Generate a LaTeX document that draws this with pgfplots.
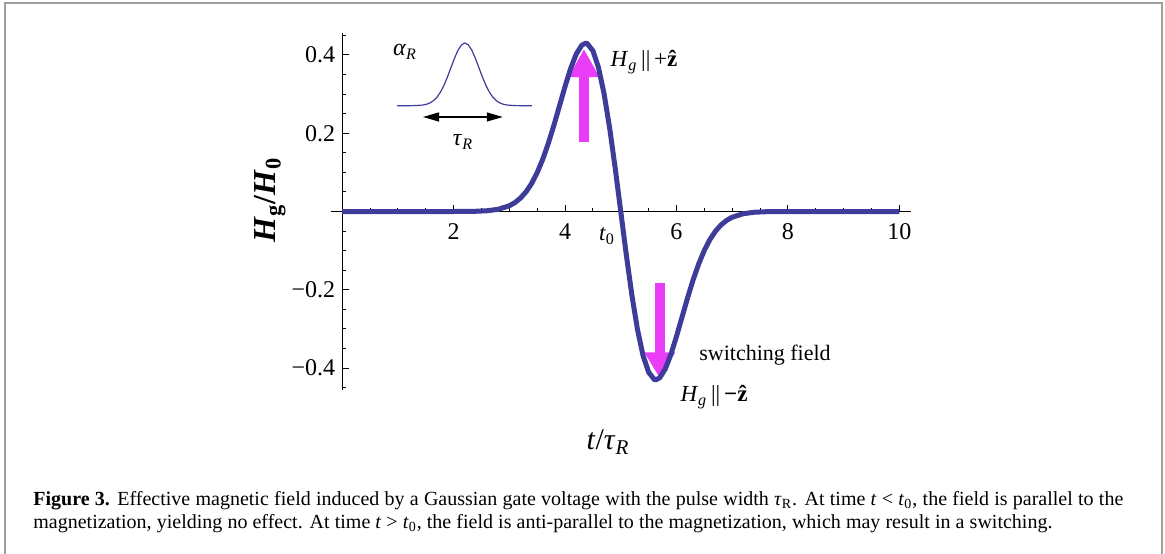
\documentclass[border=0pt]{standalone}
\usepackage{fontspec}
\setmainfont{Liberation Serif}
\usepackage{pgfplots}
\pgfplotsset{compat=1.18}
\usetikzlibrary{arrows.meta}
\definecolor{curve}{RGB}{61,61,153}
\definecolor{mag}{RGB}{233,61,247}
\definecolor{framegray}{RGB}{160,160,160}

% H_g / H_0 against t / tau_R
\pgfplotstableread{
t      h
0      0
1      0
2      0
2.4    0.0006
2.6    0.0019
2.8    0.0056
3.0    0.0146
3.1    0.0227
3.2    0.0342
3.3    0.0502
3.4    0.0716
3.5    0.0992
3.6    0.1334
3.7    0.1741
3.8    0.2201
3.9    0.2696
4.0    0.3193
4.1    0.3651
4.2    0.4019
4.3    0.4248
4.37   0.4299
4.4    0.4289
4.5    0.4106
4.6    0.3679
4.7    0.3013
4.8    0.2139
4.9    0.1111
5.0    0
5.1   -0.1111
5.2   -0.2139
5.3   -0.3013
5.4   -0.3679
5.5   -0.4106
5.6   -0.4289
5.63  -0.4299
5.7   -0.4248
5.8   -0.4019
5.9   -0.3651
6.0   -0.3193
6.1   -0.2696
6.2   -0.2201
6.3   -0.1741
6.4   -0.1334
6.5   -0.0992
6.6   -0.0716
6.7   -0.0502
6.8   -0.0342
6.9   -0.0227
7.0   -0.0146
7.2   -0.0056
7.4   -0.0019
7.6   -0.0006
8      0
9      0
10     0
}\field

% small pulse sketch (alpha_R)
\pgfplotstableread{
u      a
-4.86  0
-4.0   0.0003
-3.5   0.0022
-3.0   0.0111
-2.75  0.0228
-2.5   0.0439
-2.25  0.0796
-2.0   0.1353
-1.75  0.2163
-1.5   0.3247
-1.25  0.4578
-1.0   0.6065
-0.75  0.7548
-0.5   0.8825
-0.25  0.9692
0      1
0.25   0.9692
0.5    0.8825
0.75   0.7548
1.0    0.6065
1.25   0.4578
1.5    0.3247
1.75   0.2163
2.0    0.1353
2.25   0.0796
2.5    0.0439
2.75   0.0228
3.0    0.0111
3.5    0.0022
4.0    0.0003
4.8    0
}\pulse

\begin{document}
\begin{tikzpicture}[x=1pt,y=1pt]
\useasboundingbox (0,0) rectangle (582.5,276.5);
\draw[framegray, line width=1pt] (2.5,-1) -- (2.5,275) -- (581,275) -- (581,-1);

\begin{axis}[
  at={(165.5pt,81.5pt)}, anchor=south west, scale only axis,
  width=289.75pt, height=178.5pt,
  axis lines=middle, axis line style={-, black, line width=0.5pt},
  xmin=-0.2, xmax=10.2, ymin=-0.456, ymax=0.456,
  xtick={2,4,6,8,10}, ytick={-0.4,-0.2,0.2,0.4},
  yticklabels={−0.4,−0.2,0.2,0.4},
  minor xtick={0.5,1,1.5,2.5,3,3.5,4.5,5,5.5,6.5,7,7.5,8.5,9,9.5},
  minor ytick={-0.45,-0.35,-0.3,-0.25,-0.15,-0.1,-0.05,0.05,0.1,0.15,0.25,0.3,0.35,0.45},
  tick align=inside, major tick length=3.5pt, minor tick length=2pt,
  tick style={black, line width=0.5pt},
  ticklabel style={font=\fontsize{12}{14}\selectfont},
  xticklabel style={yshift=-2.5pt},
  /pgf/number format/assume math mode=true,
  clip=false,
]
\draw[mag, line width=5pt, -{Triangle[length=14pt, width=14.5pt]}]
  (axis cs:4.34,0.177) -- (axis cs:4.34,0.415);
\draw[mag, line width=5pt, -{Triangle[length=13pt, width=14.5pt]}]
  (axis cs:5.70,-0.182) -- (axis cs:5.70,-0.426);
\addplot[curve, line width=2.5pt, line join=round, no marks] table[x=t, y=h] {\field};
\end{axis}

\begin{axis}[
  at={(198.5pt,223.65pt)}, anchor=south west, scale only axis,
  width=67.5pt, height=31.35pt,
  xmin=-4.86, xmax=4.8, ymin=0, ymax=1,
  hide axis, clip=false,
]
\addplot[curve, line width=0.6pt, no marks] table[x=u, y=a] {\pulse};
\draw[black, line width=0.6pt, {Triangle[length=8pt, width=4.5pt]}-{Triangle[length=8pt, width=4.5pt]}]
  (axis cs:-3.0,-0.18) -- (axis cs:2.71,-0.18);
\end{axis}

\node[font=\fontsize{12}{14}\selectfont] at (202.5,250.5) {\textit{α}\textsubscript{\textit{R}}};
\node[font=\fontsize{12}{14}\selectfont] at (231.5,205.5) {\textit{τ}\textsubscript{\textit{R}}};
\node[font=\fontsize{11.5}{13}\selectfont] at (322,245.5) {\textit{H}\textsubscript{\textit{g}}\,||\,+\textbf{\^{z}}};
\node[font=\fontsize{11}{13}\selectfont] at (382.5,99) {switching field};
\node[font=\fontsize{11.5}{13}\selectfont] at (357,78) {\textit{H}\textsubscript{\textit{g}}\,||\,\textbf{−\^{z}}};
\node[font=\fontsize{11.5}{13}\selectfont] at (303.5,158.5) {\textit{t}\textsubscript{0}};
\node[font=\fontsize{15}{17}\selectfont] at (304,55.5) {\textit{t}/\textit{τ}\textsubscript{\textit{R}}};
\node[font=\fontsize{16}{18}\selectfont\bfseries, rotate=90] at (135,176.5) {\textit{H}\textsubscript{g}/\textit{H}\textsubscript{0}};

\node[anchor=base west, inner sep=0pt, font=\fontsize{10}{12}\selectfont] at (16.5,24)
  {\makebox[545pt][s]{\textbf{Figure 3.} Effective magnetic field induced by a Gaussian gate voltage with the pulse width \textit{τ}\textsubscript{R}. At time \textit{t}~<~\textit{t}\textsubscript{0}, the field is parallel to the}};
\node[anchor=base west, inner sep=0pt, font=\fontsize{10}{12}\selectfont] at (16.5,12.5)
  {\makebox[509.5pt][s]{magnetization, yielding no effect. At time \textit{t}~>~\textit{t}\textsubscript{0}, the field is anti-parallel to the magnetization, which may result in a switching.}};
\end{tikzpicture}
\end{document}
